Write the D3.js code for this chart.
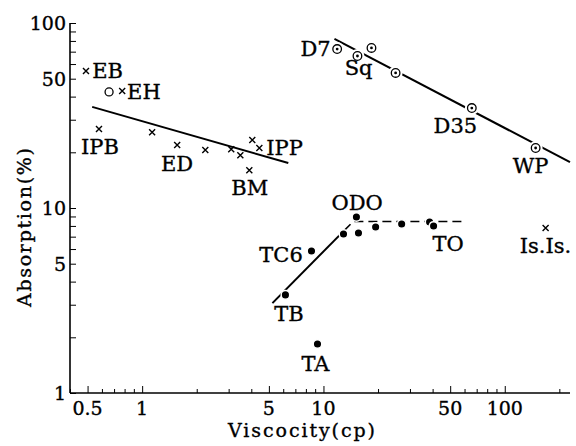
<!DOCTYPE html>
<html lang="en">
<head>
<meta charset="UTF-8">
<title>Absorption vs viscocity</title>
<script src="https://d3js.org/d3.v7.min.js"></script>
<style>
  body { margin: 0; background: #fff; }
  svg { display: block; }
  text { font-family: "DejaVu Serif", "Liberation Serif", serif; fill: #000; stroke: #000; stroke-width: 0.35px; }
</style>
</head>
<body>
<script>
// crosses (x) : [viscosity, absorption]
const crossPts = [
  [0.49, 55], [0.776, 42.9], [0.578, 26.7], [1.135, 25.7], [1.56, 21.9],
  [2.23, 20.6], [3.1, 20.8], [3.48, 19.3], [4.05, 23.3], [4.43, 21.1],
  [3.9, 16.0], [168, 7.8]
];
// open circle
const openPts = [[0.657, 42.4]];
// circled dots
const ringPts = [[11.9, 72.3], [15.4, 66.3], [18.4, 73.3], [25, 53.7], [65.8, 34.7], [148, 21.1]];
// filled dots
const dotPts = [
  [6.17, 3.39], [8.59, 5.86], [9.27, 1.84], [12.9, 7.23], [15.2, 8.94],
  [15.6, 7.33], [19.4, 7.9], [27, 8.2], [38.5, 8.4], [40.5, 8.0]
];
// fitted lines
const lineA = [[0.53, 35.2], [6.4, 17.5]];
const lineB = [[11.5, 82], [229, 17.7]];
const lineC = [[5.23, 3.06], [13.0, 7.55]];
const lineCdash = [[13.0, 7.55], [14.6, 8.45], [58, 8.45]];

// labels: [text, viscosity, absorption] (left/baseline)
const labels = [
  ["EB", 0.53, 50.4], ["EH", 0.826, 38.8], ["IPB", 0.46, 19.6], ["ED", 1.27, 15.9],
  ["BM", 3.1, 11.8], ["IPP", 4.84, 19.3], ["D7", 7.46, 66.3], ["Sq", 13.1, 52.3],
  ["D35", 40.5, 25.4], ["WP", 110.7, 15.5], ["ODO", 11.07, 9.76], ["TC6", 4.43, 5.1],
  ["TB", 5.36, 2.45], ["TA", 7.56, 1.31], ["TO", 40, 5.86], ["Is.Is.", 121, 5.71]
];

const xTickLabels = [0.5, 1, 5, 10, 50, 100];
const yTickLabels = [1, 5, 10, 50, 100];

const width = 576, height = 446;
const svg = d3.select("body").append("svg").attr("width", width).attr("height", height);

const x = d3.scaleLog().domain([0.4, 229]).range([70, 570]);
const y = d3.scaleLog().domain([1, 100]).range([393, 23]);

// minor tick values
const xMinor = [];
[0.1, 1, 10, 100].forEach(d => { for (let k = 1; k < 10; k++) { const v = d * k; if (v >= 0.4 && v <= 229) xMinor.push(v); } });
const yMinor = [];
[1, 10].forEach(d => { for (let k = 1; k < 10; k++) yMinor.push(d * k); });
yMinor.push(100);

const xAxis = svg.append("g").attr("transform", `translate(0,${y(1)})`)
  .call(d3.axisBottom(x).tickValues(xMinor).tickSize(-4).tickFormat(""));
xAxis.select(".domain").attr("d", `M${x(0.4)},0H${x(229)}`).attr("stroke-width", 1.6);
xAxis.selectAll(".tick line").attr("stroke-width", 1)
  .attr("y2", d => xTickLabels.includes(d) ? -7 : -4);

const yAxis = svg.append("g").attr("transform", `translate(${x(0.4)},0)`)
  .call(d3.axisLeft(y).tickValues(yMinor).tickSize(-6).tickFormat(""));
yAxis.select(".domain").attr("d", `M0,${y(100)}V${y(1)}`).attr("stroke-width", 1.6);
yAxis.selectAll(".tick line").attr("stroke-width", 1);

// tick labels
svg.append("g").selectAll("text").data(xTickLabels).join("text")
  .attr("x", d => x(d)).attr("y", 415)
  .attr("text-anchor", "middle").style("font-size", "19px").text(d => d);
svg.append("g").selectAll("text").data(yTickLabels).join("text")
  .attr("x", 66).attr("y", d => y(d) + 7)
  .attr("text-anchor", "end").style("font-size", "19px").text(d => d);

// axis titles
svg.append("text").attr("x", 228).attr("y", 437)
  .attr("textLength", 147).attr("lengthAdjust", "spacing")
  .style("font-size", "19px").text("Viscocity(cp)");
svg.append("text").attr("transform", "translate(31,307) rotate(-90)")
  .attr("textLength", 159).attr("lengthAdjust", "spacing")
  .style("font-size", "19px").text("Absorption(%)");

const line = d3.line().x(d => x(d[0])).y(d => y(d[1]));
const lines = svg.append("g").attr("fill", "none").attr("stroke", "#000").attr("stroke-width", 2);
lines.append("path").attr("d", line(lineA));
lines.append("path").attr("d", line(lineB));
lines.append("path").attr("d", line(lineC));
lines.append("path").attr("d", line(lineCdash)).attr("stroke-dasharray", "9,5").attr("stroke-width", 1.6);

// markers
const crossSize = 3;
svg.append("g").selectAll("path").data(crossPts).join("path")
  .attr("d", d => {
    const cx = x(d[0]), cy = y(d[1]), s = crossSize;
    return `M${cx - s},${cy - s}L${cx + s},${cy + s}M${cx - s},${cy + s}L${cx + s},${cy - s}`;
  })
  .attr("stroke", "#000").attr("stroke-width", 1.4);

svg.append("g").selectAll("circle").data(openPts).join("circle")
  .attr("cx", d => x(d[0])).attr("cy", d => y(d[1])).attr("r", 4)
  .attr("fill", "#fff").attr("stroke", "#000").attr("stroke-width", 1.3);

const rings = svg.append("g").selectAll("g").data(ringPts).join("g")
  .attr("transform", d => `translate(${x(d[0])},${y(d[1])})`);
rings.append("circle").attr("r", 7).attr("fill", "#fff");
rings.append("circle").attr("r", 4.3).attr("fill", "#fff").attr("stroke", "#000").attr("stroke-width", 1.3);
rings.append("circle").attr("r", 1.4).attr("fill", "#000");

svg.append("g").selectAll("circle").data(dotPts).join("circle")
  .attr("cx", d => x(d[0])).attr("cy", d => y(d[1])).attr("r", 4.3)
  .attr("fill", "#000").attr("stroke", "#fff").attr("stroke-width", 1.5);

svg.append("g").selectAll("text").data(labels).join("text")
  .attr("x", d => x(d[1])).attr("y", d => y(d[2]))
  .style("font-size", "21px").text(d => d[0]);
</script>
</body>
</html>
